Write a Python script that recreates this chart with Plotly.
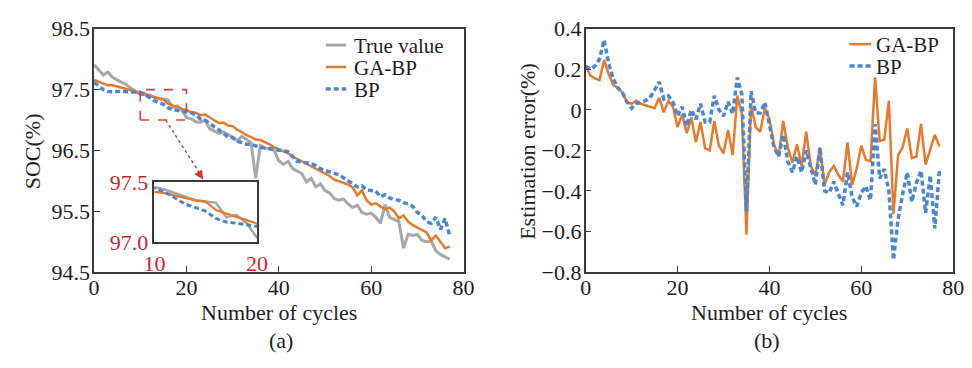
import plotly.graph_objects as go

# ---------------- data ----------------
cycles = list(range(78))

true_value = [97.91, 97.83, 97.74, 97.79, 97.70, 97.66, 97.62, 97.58, 97.52, 97.47,
              97.46, 97.44, 97.41, 97.38, 97.35, 97.34, 97.33, 97.21, 97.23, 97.16,
              97.04, 97.02, 96.97, 96.96, 97.00, 96.86, 96.82, 96.78, 96.80, 96.76,
              96.72, 96.66, 96.73, 96.68, 96.63, 96.04, 96.58, 96.54, 96.53, 96.50,
              96.33, 96.27, 96.32, 96.20, 96.16, 96.12, 95.98, 96.04, 95.90, 95.95,
              95.84, 95.80, 95.71, 95.68, 95.70, 95.62, 95.56, 95.60, 95.48, 95.45,
              95.47, 95.40, 95.30, 95.61, 95.40, 95.37, 95.33, 94.89, 95.12, 95.10,
              95.12, 95.02, 95.00, 95.01, 94.85, 94.79, 94.75, 94.71]

ga_bp = [97.66, 97.63, 97.60, 97.57, 97.57, 97.55, 97.53, 97.52, 97.49, 97.46,
         97.42, 97.41, 97.39, 97.37, 97.35, 97.34, 97.27, 97.24, 97.21, 97.18,
         97.15, 97.13, 97.12, 97.08, 97.09, 97.04, 97.00, 96.95, 96.96, 96.91,
         96.90, 96.84, 96.80, 96.75, 96.72, 96.68, 96.67, 96.64, 96.60, 96.55,
         96.52, 96.48, 96.45, 96.40, 96.36, 96.32, 96.27, 96.23, 96.20, 96.15,
         96.12, 96.08, 96.02, 95.99, 95.97, 95.94, 95.89, 95.76, 95.84, 95.68,
         95.61, 95.63, 95.58, 95.53, 95.56, 95.50, 95.38, 95.43, 95.33, 95.27,
         95.23, 95.19, 95.15, 95.02, 95.10, 95.00, 94.89, 94.92]

bp = [97.62, 97.56, 97.50, 97.47, 97.46, 97.47, 97.47, 97.47, 97.46, 97.46,
      97.45, 97.42, 97.37, 97.32, 97.29, 97.26, 97.20, 97.17, 97.16, 97.15,
      97.14, 97.12, 97.08, 97.02, 97.00, 96.94, 96.89, 96.84, 96.78, 96.72,
      96.71, 96.65, 96.63, 96.60, 96.60, 96.57, 96.55, 96.54, 96.53, 96.51,
      96.50, 96.49, 96.48, 96.40, 96.32, 96.31, 96.30, 96.28, 96.25, 96.20,
      96.17, 96.15, 96.12, 96.10, 96.05, 96.00, 95.94, 95.90, 95.92, 95.85,
      95.84, 95.83, 95.74, 95.77, 95.72, 95.69, 95.68, 95.64, 95.62, 95.58,
      95.48, 95.43, 95.33, 95.30, 95.40, 95.20, 95.38, 95.10]

err_ga_bp = [0.22, 0.17, 0.155, 0.146, 0.246, 0.177, 0.123, 0.108, 0.085, 0.038,
             0.03, 0.046, 0.03, 0.023, 0.015, 0.008, 0.06, -0.012, 0.043, 0.015,
             -0.085, -0.023, -0.115, -0.038, -0.16, -0.06, -0.19, -0.2, -0.055, -0.177,
             -0.215, -0.1, -0.223, 0.069, -0.023, -0.615, 0.023, -0.085, -0.108, 0.008,
             -0.046, -0.17, -0.23, -0.054, -0.185, -0.26, -0.17, -0.277, -0.108, -0.277,
             -0.323, -0.185, -0.37, -0.308, -0.277, -0.32, -0.354, -0.16, -0.37, -0.29,
             -0.177, -0.246, -0.254, 0.16, -0.154, -0.146, 0.046, -0.515, -0.223, -0.185,
             -0.092, -0.238, -0.23, -0.069, -0.27, -0.192, -0.123, -0.18]

err_bp = [0.215, 0.2, 0.215, 0.25, 0.345, 0.23, 0.154, 0.108, 0.085, 0.038,
          0.008, 0.03, 0.038, 0.045, 0.06, 0.1, 0.138, 0.054, 0.069, 0.038,
          -0.03, 0.015, -0.08, 0.0, -0.046, 0.03, -0.06, -0.06, 0.07, 0.0,
          -0.03, 0.04, -0.02, 0.16, 0.077, -0.5, 0.092, -0.015, -0.015, 0.038,
          -0.077, -0.185, -0.23, -0.123, -0.254, -0.308, -0.23, -0.308, -0.2, -0.29,
          -0.37, -0.185, -0.4, -0.41, -0.354, -0.415, -0.47, -0.308, -0.43, -0.477,
          -0.408, -0.377, -0.446, -0.07, -0.338, -0.292, -0.4, -0.74, -0.54, -0.415,
          -0.308, -0.454, -0.36, -0.3, -0.508, -0.323, -0.585, -0.3]

soc_ticks = [94.5, 95.5, 96.5, 97.5, 98.5]
cycle_ticks = [0, 20, 40, 60, 80]
err_ticks = [-0.8, -0.6, -0.4, -0.2, 0, 0.2, 0.4]
inset_x_ticks = [10, 20]
inset_y_ticks = [97.0, 97.5]
inset_y_text = ["97.0", "97.5"]

left_legend = ["True value", "GA-BP", "BP"]
right_legend = ["GA-BP", "BP"]

# ---------------- style ----------------
W, H = 972, 368
FONT = "Liberation Serif"
GRAY = "#A8A8A8"
ORANGE = "#E8792B"
BLUE = "#4A87D0"
RED = "#C62830"
AX = "#3A3A3A"
TXT = "#1E1E1E"
DOTS = "5px,3px"
LEG_SIZE = 21


def px(p):
    """pixel x -> paper fraction"""
    return p / W


def py(p):
    """pixel y (from top) -> paper fraction"""
    return 1 - p / H


fig = go.Figure()

main_styles = [dict(color=GRAY, width=3), dict(color=ORANGE, width=2.5),
               dict(color=BLUE, width=3.5, dash=DOTS)]
for name, vals, st in zip(left_legend, [true_value, ga_bp, bp], main_styles):
    fig.add_trace(go.Scatter(x=cycles, y=vals, name=name, mode="lines", showlegend=False,
                             line=st, xaxis="x", yaxis="y"))

inset_styles = [dict(color=GRAY, width=2.6), dict(color=ORANGE, width=2.2),
                dict(color=BLUE, width=3, dash=DOTS)]
for name, vals, st in zip(left_legend, [true_value, ga_bp, bp], inset_styles):
    fig.add_trace(go.Scatter(x=cycles, y=vals, name=name, mode="lines", showlegend=False,
                             line=st, xaxis="x3", yaxis="y3"))

err_styles = [dict(color=ORANGE, width=2.5), dict(color=BLUE, width=3.5, dash=DOTS)]
for name, vals, st in zip(right_legend, [err_ga_bp, err_bp], err_styles):
    fig.add_trace(go.Scatter(x=cycles, y=vals, name=name, mode="lines", showlegend=False,
                             line=st, xaxis="x2", yaxis="y2"))

axis_common = dict(showline=True, mirror=True, linecolor=AX, linewidth=1.6,
                   ticks="inside", ticklen=6, tickwidth=1.4, tickcolor=AX,
                   showgrid=False, zeroline=False,
                   tickfont=dict(family=FONT, size=22, color=TXT))

left_dom_x = [px(85), px(463)]
right_dom_x = [px(588), px(964)]
dom_y = [py(279), py(18)]

shapes = [
    dict(type="rect", xref="x", yref="y", x0=10, x1=20, y0=97.0, y1=97.5,
         line=dict(color="#D8403C", width=1.6, dash="dash")),
    dict(type="line", xref="x", yref="y", x0=15.5, y0=97.0, x1=23.4, y1=96.06,
         line=dict(color="#D8403C", width=1.5, dash="dot")),
]

annotations = [
    dict(x=23.6, y=96.02, xref="x", yref="y", text="", showarrow=True,
         arrowhead=2, arrowsize=1.2, arrowwidth=1.5, arrowcolor="#E0302C", ax=-5, ay=-8),
]

# legends (left panel)
for i, (name, st) in enumerate(zip(left_legend, main_styles)):
    yy = [35.5, 59, 82.5][i]
    shapes.append(dict(type="line", xref="paper", yref="paper", x0=px(322), x1=px(343),
                       y0=py(yy), y1=py(yy), line=st))
    annotations.append(dict(x=px(349), y=py(yy + 1), xref="paper", yref="paper", text=name,
                            showarrow=False, xanchor="left", yanchor="middle",
                            font=dict(family=FONT, size=LEG_SIZE, color=TXT)))
# legends (right panel)
for i, (name, st) in enumerate(zip(right_legend, err_styles)):
    yy = [34.5, 58][i]
    shapes.append(dict(type="line", xref="paper", yref="paper", x0=px(858), x1=px(880),
                       y0=py(yy), y1=py(yy), line=st))
    annotations.append(dict(x=px(883), y=py(yy + 1), xref="paper", yref="paper", text=name,
                            showarrow=False, xanchor="left", yanchor="middle",
                            font=dict(family=FONT, size=LEG_SIZE, color=TXT)))

titles = [
    (274, 322, "Number of cycles", 0),
    (776, 322, "Number of cycles", 0),
    (276, 352, "(a)", 0),
    (773, 352, "(b)", 0),
    (22, 150, "SOC(%)", -90),
    (529, 150, "Estimation error(%)", -90),
]
for x, y, t, ang in titles:
    annotations.append(dict(x=px(x), y=py(y), xref="paper", yref="paper", text=t, textangle=ang,
                            showarrow=False, xanchor="center", yanchor="middle",
                            font=dict(family=FONT, size=22, color=TXT)))

fig.update_layout(
    width=W, height=H, autosize=False,
    margin=dict(l=0, r=0, t=0, b=0),
    paper_bgcolor="white", plot_bgcolor="white",
    showlegend=False,
    xaxis=dict(domain=left_dom_x, range=[0, 80], tickvals=cycle_ticks, anchor="y",
               ticklabelstandoff=-5, **axis_common),
    yaxis=dict(domain=dom_y, range=[94.5, 98.5], tickvals=soc_ticks, anchor="x",
               ticklabelstandoff=-2, **axis_common),
    xaxis2=dict(domain=right_dom_x, range=[0, 80], tickvals=cycle_ticks, anchor="y2",
                ticklabelstandoff=-5, **axis_common),
    yaxis2=dict(domain=dom_y, range=[-0.8, 0.4], tickvals=err_ticks, anchor="x2",
                ticklabelstandoff=-2, **axis_common),
    xaxis3=dict(domain=[px(146.7), px(251.7)], range=[10, 20], tickvals=inset_x_ticks, anchor="y3",
                showline=True, mirror=True, linecolor=AX, linewidth=1.6, ticks="",
                showgrid=False, zeroline=False,
                tickfont=dict(family=FONT, size=22, color=RED)),
    yaxis3=dict(domain=[py(247.3), py(182.7)], range=[97.0, 97.5], tickvals=inset_y_ticks,
                ticktext=inset_y_text, anchor="x3",
                showline=True, mirror=True, linecolor=AX, linewidth=1.6, ticks="",
                showgrid=False, zeroline=False,
                tickfont=dict(family=FONT, size=22, color=RED)),
    shapes=shapes,
    annotations=annotations,
)

fig.write_html("out.html")
